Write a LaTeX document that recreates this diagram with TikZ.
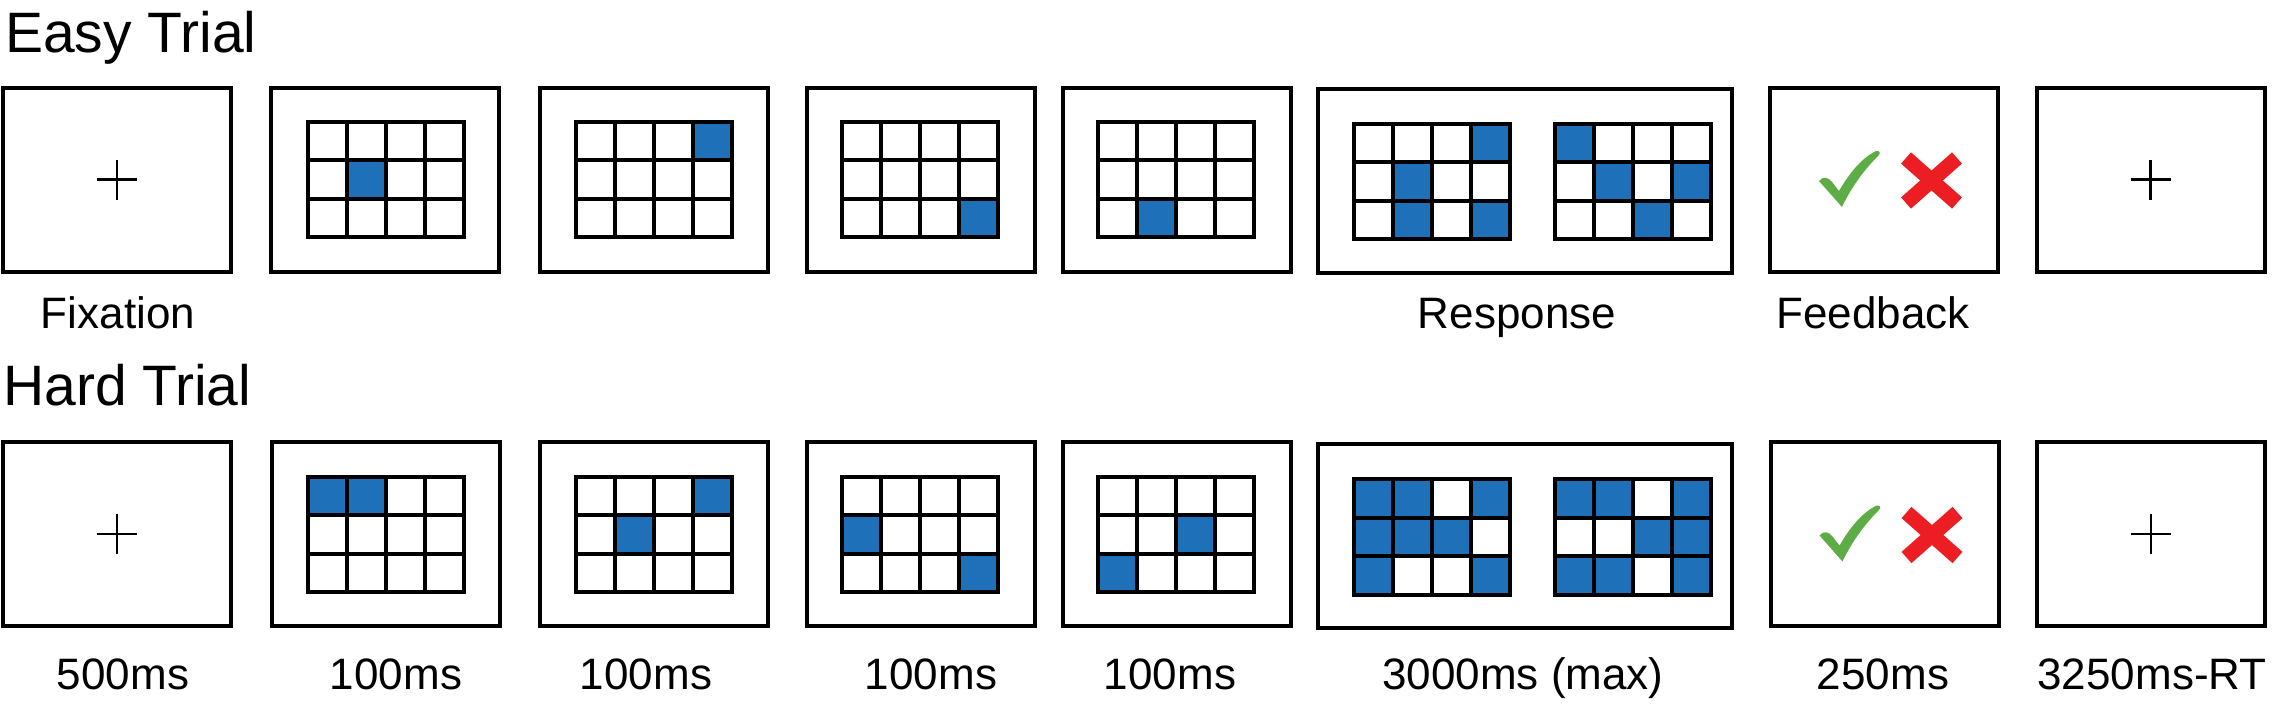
\documentclass[tikz,border=0pt]{standalone}
\usepackage{fontspec}
\setmainfont{Liberation Sans}
\definecolor{cellblue}{RGB}{30,113,184}
\definecolor{okgreen}{RGB}{94,172,70}
\definecolor{badred}{RGB}{236,30,36}
\tikzset{
  screen/.style={draw=black, line width=4pt, minimum width=228pt, minimum height=184pt, inner sep=0pt},
  widescreen/.style={screen, minimum width=414pt},
  gridline/.style={draw=black, line width=4pt, line cap=rect},
  fixline/.style={draw=black, line width=2.8pt},
  lbl/.style={anchor=base, inner sep=0pt, font=\fontsize{44}{48}\selectfont},
  ttl/.style={anchor=base west, inner sep=0pt, font=\fontsize{57}{62}\selectfont},
  xbar/.style={draw=badred, line width=15pt, line cap=butt}
}
\newcommand\taskgrid[3]{%
  \begin{scope}[shift={(#1,#2)}]
    \foreach \r/\c in {#3} {
      \fill[cellblue] ({-78+(\c-1)*39},{-57.75+(\r-1)*38.5}) rectangle ++(39,38.5);
    }
    \foreach \i in {1,2,3} \draw[gridline] ({-78+\i*39},-57.75) -- ++(0,115.5);
    \foreach \j in {1,2} \draw[gridline] (-78,{-57.75+\j*38.5}) -- ++(156,0);
    \draw[gridline] (-78,-57.75) rectangle (78,57.75);
  \end{scope}}
\newcommand\fixcross[1]{%
  \draw[fixline] ([xshift=-20pt]#1.center) -- ([xshift=20pt]#1.center);
  \draw[fixline] ([yshift=-20pt]#1.center) -- ([yshift=20pt]#1.center);}
\newcommand\feedbackmarks[1]{%
  \begin{scope}[shift={(#1.center)}]
    \fill[okgreen] (-65,1.5) .. controls (-61,-3.5) and (-56,-2.5) .. (-52,2.5)
      -- (-45,11.5) .. controls (-34,-7.5) and (-22,-21.5) .. (-8,-28.5)
      .. controls (-4,-29.5) and (-3,-26) .. (-6,-23.5)
      .. controls (-22,-7.5) and (-34,10.5) .. (-42,27.5) -- cycle;
    \draw[xbar] (22,-21.5) -- (73,23.5);
    \draw[xbar] (73,-21.5) -- (22,23.5);
  \end{scope}}
\begin{document}
\begin{tikzpicture}[x=1pt, y=-1pt]
\useasboundingbox[fill=white] (0,0) rectangle (2273,707);
% titles
\node[ttl] (easyttl) at (5,52) {Easy Trial};
\node[ttl] (hardttl) at (3,405) {Hard Trial};
% easy row screens
\node[screen] (e1) at (117,179.5) {};
\node[screen] (e2) at (385,179.5) {};
\node[screen] (e3) at (654,179.5) {};
\node[screen] (e4) at (920.5,179.5) {};
\node[screen] (e5) at (1177,179.5) {};
\node[widescreen] (e6) at (1525,180.5) {};
\node[screen] (e7) at (1884,179.5) {};
\node[screen] (e8) at (2150.5,179.5) {};
% hard row screens
\node[screen] (h1) at (117,534) {};
\node[screen] (h2) at (385.5,534) {};
\node[screen] (h3) at (654,534) {};
\node[screen] (h4) at (920.5,534) {};
\node[screen] (h5) at (1177,534) {};
\node[widescreen] (h6) at (1525,536) {};
\node[screen] (h7) at (1884.5,534) {};
\node[screen] (h8) at (2151,534) {};
% fixation crosses
\fixcross{e1}\fixcross{e8}\fixcross{h1}\fixcross{h8}
% easy grids
\taskgrid{385.5}{179.5}{2/2}
\taskgrid{653.5}{179.5}{1/4}
\taskgrid{919.5}{179.5}{3/4}
\taskgrid{1175.5}{179.5}{3/2}
\taskgrid{1431.5}{181.5}{1/4,2/2,3/2,3/4}
\taskgrid{1632.5}{181.5}{1/1,2/2,2/4,3/3}
% hard grids
\taskgrid{385.5}{534.5}{1/1,1/2}
\taskgrid{653.5}{534.5}{1/4,2/2}
\taskgrid{919.5}{534.5}{2/1,3/4}
\taskgrid{1175.5}{534.5}{2/3,3/1}
\taskgrid{1432}{537}{1/1,1/2,1/4,2/1,2/2,2/3,3/1,3/4}
\taskgrid{1632.5}{537}{1/1,1/2,1/4,2/3,2/4,3/1,3/2,3/4}
% feedback
\feedbackmarks{e7}
\feedbackmarks{h7}
% labels easy
\node[lbl] (lfix) at (118,328) {Fixation};
\node[lbl] (lresp) at (1517,328) {Response};
\node[lbl] (lfeed) at (1873,328) {Feedback};
% labels hard
\node[lbl] (t1) at (123,689) {500ms};
\node[lbl] (t2) at (396,689) {100ms};
\node[lbl] (t3) at (646,689) {100ms};
\node[lbl] (t4) at (931,689) {100ms};
\node[lbl] (t5) at (1170,689) {100ms};
\node[lbl] (t6) at (1523,689) {3000ms (max)};
\node[lbl] (t7) at (1883,689) {250ms};
\node[lbl] (t8) at (2152,689) {3250ms-RT};
\end{tikzpicture}
\end{document}
